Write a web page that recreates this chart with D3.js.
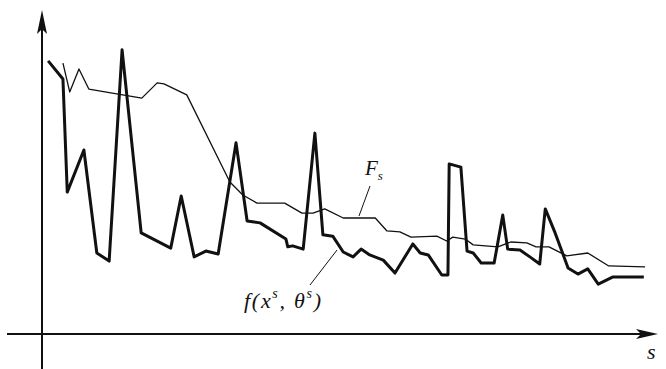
<!DOCTYPE html>
<html>
<head>
<meta charset="utf-8">
<script src="https://cdn.jsdelivr.net/npm/d3@7"></script>
<style>
  body { margin: 0; background: #fff; }
  .lbl { font-family: "Liberation Serif", "DejaVu Serif", serif; font-style: italic; fill: #111; }
</style>
</head>
<body>
<div id="chart"></div>
<script>
// step s and the two curves
const fS = [1.0, 3.4, 4.1, 6.8, 8.9, 10.9, 13.0, 16.1, 20.9, 22.6, 24.7, 26.6, 28.6, 31.5, 33.3, 35.4,
  39.6, 39.9, 40.7, 42.4, 44.3, 45.6, 47.2, 48.9, 50.5, 51.8, 53.2, 55.4, 57.3, 60.2, 61.4, 62.7,
  64.9, 65.9, 66.1, 68.0, 69.0, 70.0, 71.3, 73.4, 74.8, 75.6, 77.6, 79.2, 80.8, 81.7, 83.3, 85.4,
  87.0, 88.6, 90.3, 92.7, 97.7];
const fVal = [84.3, 78.7, 43.8, 56.8, 25.0, 22.5, 87.7, 31.2, 26.5, 42.6, 23.8, 25.6, 24.7, 59.0, 34.9, 34.3,
  29.3, 26.9, 27.2, 26.2, 62.0, 30.6, 30.2, 25.3, 23.8, 26.2, 24.4, 22.8, 18.8, 27.8, 25.0, 24.4,
  18.2, 18.2, 52.5, 51.5, 25.6, 25.0, 21.9, 21.9, 36.7, 26.2, 25.9, 23.8, 21.6, 38.6, 31.2, 20.4,
  18.5, 20.1, 15.4, 17.6, 17.6];

const FS = [3.4, 4.5, 6.0, 7.6, 16.2, 18.7, 19.8, 23.5, 30.5, 32.6, 34.9, 39.4, 42.2, 44.0, 45.9, 48.9,
  54.1, 56.0, 58.1, 59.9, 64.1, 65.7, 66.7, 68.7, 70.0, 74.0, 76.1, 78.7, 80.2, 82.3, 85.2, 88.6,
  92.0, 97.9];
const FVal = [83.6, 74.7, 81.8, 75.6, 72.8, 77.5, 77.2, 73.8, 46.9, 42.9, 40.4, 40.4, 37.3, 37.3, 38.6, 35.8,
  35.8, 31.8, 31.5, 29.9, 30.2, 28.7, 29.9, 29.3, 27.5, 26.9, 28.4, 28.1, 26.9, 26.9, 24.1, 25.0,
  21.0, 20.7];

const width = 666
const height = 369

const svg = d3.select("#chart")
  .append("svg")
  .attr("width", width)
  .attr("height", height);

// s axis runs 0..100, value axis 0..100
const x = d3.scaleLinear().domain([0, 100]).range([42, 658]);
const y = d3.scaleLinear().domain([0, 100]).range([334, 10]);

//axes
svg.append("line")
  .attr("x1", x(0)).attr("x2", x(0))
  .attr("y1", y(100) + 8).attr("y2", height)
  .attr("stroke", "#111").attr("stroke-width", 2);

svg.append("line")
  .attr("x1", 7).attr("x2", x(100) - 8)
  .attr("y1", y(0)).attr("y2", y(0))
  .attr("stroke", "#111").attr("stroke-width", 2);

// arrow heads
svg.append("path")
  .attr("d", `M${x(0)},${y(100)} L${x(0) - 5},${y(100) + 24} L${x(0)},${y(100) + 19} L${x(0) + 5},${y(100) + 24} Z`)
  .attr("fill", "#111");

svg.append("path")
  .attr("d", `M${x(100)},${y(0)} L${x(100) - 22},${y(0) - 5} L${x(100) - 17},${y(0)} L${x(100) - 22},${y(0) + 5} Z`)
  .attr("fill", "#111");

const line = d3.line()
  .x(d => x(d[0]))
  .y(d => y(d[1]));

// F_s (thin)
svg.append("path")
  .datum(d3.zip(FS, FVal))
  .attr("d", line)
  .attr("fill", "none")
  .attr("stroke", "#111")
  .attr("stroke-width", 1.3)
  .attr("stroke-linejoin", "round");

// f(x^s, theta^s) (thick)
svg.append("path")
  .datum(d3.zip(fS, fVal))
  .attr("d", line)
  .attr("fill", "none")
  .attr("stroke", "#111")
  .attr("stroke-width", 3)
  .attr("stroke-linejoin", "round");

//leader lines
svg.append("line")
  .attr("x1", 370).attr("y1", 186).attr("x2", 359).attr("y2", 216)
  .attr("stroke", "#111").attr("stroke-width", 1);

svg.append("line")
  .attr("x1", 310).attr("y1", 285).attr("x2", 337).attr("y2", 250)
  .attr("stroke", "#111").attr("stroke-width", 1);

//labels
const fsLabel = svg.append("text")
  .attr("class", "lbl")
  .attr("x", 365)
  .attr("y", 175)
  .style("font-size", "21px");
fsLabel.append("tspan").text("F");
fsLabel.append("tspan").attr("dy", 5).style("font-size", "13px").text("s");

const fLabel = svg.append("text")
  .attr("class", "lbl")
  .attr("x", 244)
  .attr("y", 308)
  .attr("textLength", 77)
  .attr("lengthAdjust", "spacing")
  .style("font-size", "22px");
fLabel.append("tspan").text("f(x");
fLabel.append("tspan").attr("dy", -10).style("font-size", "14px").text("s");
fLabel.append("tspan").attr("dy", 10).text(", θ");
fLabel.append("tspan").attr("dy", -10).style("font-size", "14px").text("s");
fLabel.append("tspan").attr("dy", 10).text(")");

svg.append("text")
  .attr("class", "lbl")
  .attr("x", 647)
  .attr("y", 359)
  .style("font-size", "22px")
  .text("s");
</script>
</body>
</html>
